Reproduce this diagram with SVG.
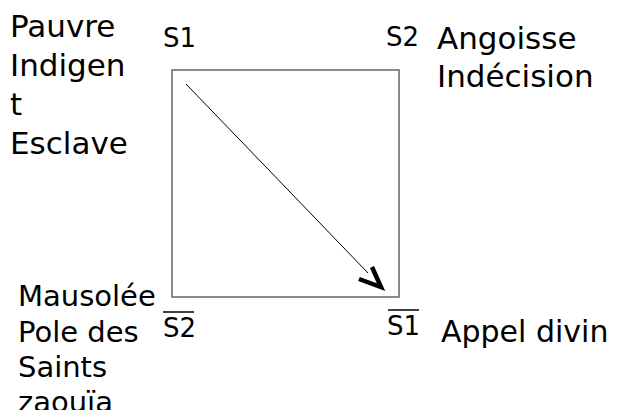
<svg xmlns="http://www.w3.org/2000/svg" width="622" height="410" viewBox="0 0 622 410">
<style>
.t{font-family:"DejaVu Sans",sans-serif;font-size:31px;fill:#000}
.b{font-family:"DejaVu Sans",sans-serif;font-size:29px;fill:#000}
.c{font-family:"DejaVu Sans",sans-serif;font-size:30px;fill:#000}
.s{font-family:"DejaVu Sans",sans-serif;font-size:26px;fill:#000}
.ov{stroke:#000;stroke-width:1.5}
</style>
<rect width="622" height="410" fill="#fff"/>
<g id="square"><rect x="172" y="70" width="227" height="227" fill="none" stroke="#666" stroke-width="1.5"/></g>
<g id="connectors">
<line x1="186" y1="84" x2="368" y2="273" stroke="#000" stroke-width="1"/>
<polyline points="372,267 381,287 359,279" fill="none" stroke="#000" stroke-width="4.5" stroke-linejoin="miter"/>
</g>
<g id="s1"><text class="s" x="163" y="47">S1</text></g>
<g id="s2"><text class="s" x="386" y="46">S2</text></g>
<g id="s2bar"><line class="ov" x1="163" y1="312" x2="194" y2="312"/><text class="s" x="163" y="337">S2</text></g>
<g id="s1bar"><line class="ov" x1="388" y1="310" x2="419" y2="310"/><text class="s" x="387" y="335">S1</text></g>
<g id="tl"><text class="t" x="10" y="37">Pauvre</text><text class="t" x="10" y="76">Indigen</text><text class="t" x="10" y="115">t</text><text class="t" x="10" y="154">Esclave</text></g>
<g id="tr"><text class="t" x="437" y="49">Angoisse</text><text class="t" x="437" y="87">Indécision</text></g>
<g id="bl"><text class="b" x="18" y="306">Mausolée</text><text class="b" x="18" y="342">Pole des</text><text class="b" x="18" y="377">Saints</text><text class="b" x="18" y="412">zaouïa</text></g>
<g id="br"><text class="c" x="441" y="342">Appel divin</text></g>
</svg>
